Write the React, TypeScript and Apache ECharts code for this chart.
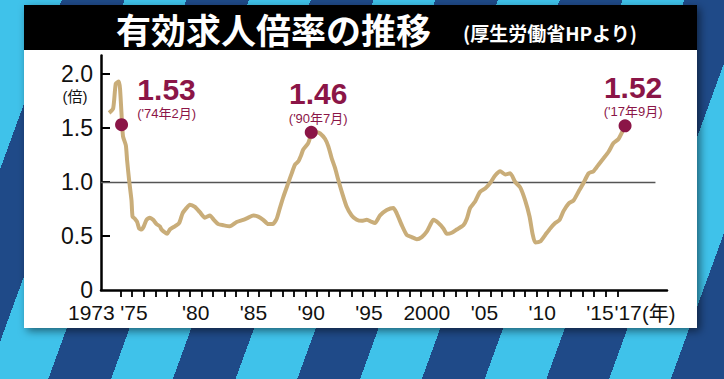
import React, { useEffect, useRef } from "react";
import * as echarts from "echarts";

// ---- data ----
const months: number[] = [
  1973.0, 1973.35, 1973.58, 1973.84, 1973.95, 1974.13, 1974.21, 1974.45, 1974.56, 1974.73,
  1974.94, 1975.03, 1975.23, 1975.43, 1975.6, 1975.81, 1976.01, 1976.24, 1976.53, 1976.81,
  1977.11, 1977.39, 1977.54, 1977.74, 1978.03, 1978.26, 1978.69, 1979.07, 1979.36, 1979.71,
  1979.99, 1980.43, 1980.86, 1981.29, 1981.73, 1982.07, 1982.45, 1982.88, 1983.46, 1984.04,
  1984.61, 1985.05, 1985.48, 1985.91, 1986.34, 1986.78, 1987.16, 1987.51, 1987.79, 1988.08,
  1988.51, 1988.81, 1989.09, 1989.38, 1989.6, 1989.81, 1990.24, 1990.55, 1991.0, 1991.26,
  1991.69, 1991.98, 1992.27, 1992.56, 1992.84, 1993.14, 1993.57, 1994.0, 1994.44, 1994.87,
  1995.31, 1995.74, 1996.02, 1996.46, 1997.04, 1997.61, 1997.9, 1998.34, 1998.77, 1999.2,
  1999.64, 2000.07, 2000.5, 2000.79, 2001.08, 2001.51, 2001.94, 2002.24, 2002.67, 2003.1,
  2003.68, 2003.97, 2004.26, 2004.69, 2005.12, 2005.56, 2005.99, 2006.42, 2006.86, 2007.29,
  2007.72, 2008.16, 2008.59, 2009.02, 2009.4, 2009.66, 2009.89, 2010.33, 2010.76, 2011.19,
  2011.62, 2012.0, 2012.34, 2012.78, 2013.21, 2013.64, 2014.07, 2014.51, 2014.94, 2015.37,
  2015.81, 2016.24, 2016.67, 2017.11, 2017.67,
];
const ratios: number[] = [
  1.64, 1.68, 1.91, 1.93, 1.86, 1.53, 1.42, 1.34, 1.2, 1.02,
  0.83, 0.68, 0.66, 0.63, 0.57, 0.56, 0.59, 0.65, 0.67, 0.65,
  0.61, 0.59, 0.56, 0.54, 0.52, 0.56, 0.59, 0.62, 0.71, 0.76,
  0.79, 0.77, 0.72, 0.67, 0.69, 0.65, 0.61, 0.6, 0.59, 0.63,
  0.65, 0.67, 0.69, 0.68, 0.65, 0.61, 0.61, 0.66, 0.76, 0.86,
  0.99, 1.08, 1.16, 1.19, 1.24, 1.3, 1.36, 1.45, 1.46, 1.45,
  1.4, 1.33, 1.22, 1.13, 1.02, 0.91, 0.77, 0.69, 0.65, 0.64,
  0.65, 0.63, 0.62, 0.69, 0.74, 0.76, 0.71, 0.6, 0.51, 0.49,
  0.47, 0.49, 0.54, 0.6, 0.65, 0.62, 0.57, 0.52, 0.53, 0.56,
  0.6, 0.66, 0.76, 0.82, 0.91, 0.94, 0.99, 1.06, 1.1, 1.07,
  1.08, 1.0, 0.95, 0.83, 0.68, 0.52, 0.44, 0.45, 0.51, 0.57,
  0.62, 0.65, 0.73, 0.8, 0.83, 0.91, 0.99, 1.08, 1.1, 1.16,
  1.22, 1.28, 1.36, 1.4, 1.52,
];

const peakMonths = [1974.08, 1990.5, 2017.67];
const peakRatios = [1.53, 1.46, 1.52];
const peakDates = ["('74年2月)", "('90年7月)", "('17年9月)"];

const yLabelValues = [0, 0.5, 1.0, 1.5, 2.0];
const yTickValues = [0.5, 1.0, 1.5, 2.0];
const xLabelYears = [1973, 1975, 1980, 1985, 1990, 1995, 2000, 2005, 2010, 2015, 2017];
const xLabelTexts = ["1973", "'75", "'80", "'85", "'90", "'95", "2000", "'05", "'10", "'15", "'17"];
const xTickYears = [
  1974, 1975, 1976, 1977, 1978, 1979, 1980, 1981, 1982, 1983, 1984, 1985, 1986, 1987, 1988,
  1989, 1990, 1991, 1992, 1993, 1994, 1995, 1996, 1997, 1998, 1999, 2000, 2001, 2002, 2003,
  2004, 2005, 2006, 2007, 2008, 2009, 2010, 2011, 2012, 2013, 2014, 2015, 2016, 2017,
];
const referenceRatio = 1.0;

const TITLE = "有効求人倍率の推移";
const SOURCE = "(厚生労働省HPより)";
const Y_UNIT = "(倍)";
const X_UNIT = "(年)";

// ---- layout / style ----
const X_MIN = 1972.3;
const X_MAX = 2021.3;
const REF_END = 2020.3;
const Y_MAX = 2.17;
const LINE_COLOR = "#c9ad79";
const PEAK_COLOR = "#8b1547";
const TEXT_COLOR = "#111111";
const FONT = "'Liberation Sans', 'Noto Sans CJK JP', sans-serif";
const CJK_FONT = "'Noto Sans CJK JP', sans-serif";

export default function App() {
  const ref = useRef<HTMLDivElement>(null);

  useEffect(() => {
    if (!ref.current) return;
    const chart = echarts.init(ref.current, undefined, { renderer: "svg" });

    const labelOffsets: [number, number][] = [
      [45, 3],
      [7, 0],
      [8, 0],
    ];

    const option: any = {
      animation: false,
      backgroundColor: "transparent",
      title: [
        {
          text: TITLE,
          left: 116,
          top: 11,
          padding: 0,
          textStyle: { color: "#ffffff", fontSize: 35, fontWeight: "bold", fontFamily: CJK_FONT, lineHeight: 35 },
        },
        {
          text: SOURCE,
          left: 463,
          top: 22,
          padding: 0,
          textStyle: { color: "#ffffff", fontSize: 19, fontWeight: "bold", fontFamily: CJK_FONT, lineHeight: 20 },
        },
      ],
      graphic: [
        {
          type: "rect",
          z: -10,
          silent: true,
          shape: { x: 24, y: 5, width: 673, height: 323 },
          style: {
            fill: "#ffffff",
            shadowBlur: 8,
            shadowOffsetX: 3,
            shadowOffsetY: 3,
            shadowColor: "rgba(0,0,0,0.5)",
          },
        },
        {
          type: "rect",
          z: -9,
          silent: true,
          shape: { x: 24, y: 5, width: 673, height: 45 },
          style: { fill: "#000000" },
        },
      ],
      grid: { left: 101, right: 57, top: 55.6, bottom: 89, containLabel: false, outerBoundsMode: "none" },
      xAxis: {
        type: "value",
        min: X_MIN,
        max: X_MAX,
        name: X_UNIT,
        nameLocation: "end",
        nameGap: -25,
        nameMoveOverlap: false,
        nameTextStyle: {
          color: TEXT_COLOR,
          fontSize: 20,
          fontFamily: FONT,
          align: "left",
          verticalAlign: "top",
          padding: [13, 0, 0, 0],
          lineHeight: 21,
        },
        axisLine: { show: true, onZero: false, lineStyle: { color: "#000", width: 2.5 } },
        axisTick: { show: true, customValues: xTickYears, length: 7, lineStyle: { color: "#000", width: 1.8 } },
        splitLine: { show: false },
        axisLabel: {
          customValues: xLabelYears.map((y) => y + 0.5),
          margin: 12,
          color: TEXT_COLOR,
          fontSize: 21,
          fontFamily: FONT,
          formatter: (value: number) => {
            const i = xLabelYears.findIndex((y) => Math.abs(y + 0.5 - value) < 1e-6);
            if (i < 0) return "";
            const t = xLabelTexts[i];
            if (i === 0) return `{first|${t}}`;
            if (i === 1) return `{l|${t}}`;
            if (i === xLabelYears.length - 1) return `{r|${t}}`;
            return `{n|${t}}`;
          },
          rich: {
            first: { fontSize: 21, fontFamily: FONT, color: TEXT_COLOR, padding: [0, 47, 0, 0] },
            l: { fontSize: 21, fontFamily: FONT, color: TEXT_COLOR, padding: [0, 8, 0, 0] },
            r: { fontSize: 21, fontFamily: FONT, color: TEXT_COLOR, padding: [0, 0, 0, 10] },
            n: { fontSize: 21, fontFamily: FONT, color: TEXT_COLOR },
          },
        },
      },
      yAxis: {
        type: "value",
        min: 0,
        max: Y_MAX,
        name: Y_UNIT,
        nameLocation: "end",
        nameGap: -49,
        nameMoveOverlap: false,
        nameTextStyle: { color: TEXT_COLOR, fontSize: 15, fontFamily: FONT, padding: [0, 52, 0, 0], lineHeight: 16 },
        axisLine: { show: true, onZero: false, lineStyle: { color: "#000", width: 2.5 } },
        axisTick: { show: true, inside: true, customValues: yTickValues, length: 9, lineStyle: { color: "#000", width: 2 } },
        splitLine: { show: false },
        axisLabel: {
          customValues: yLabelValues,
          margin: 8,
          color: TEXT_COLOR,
          fontSize: 23,
          fontFamily: FONT,
          formatter: (v: number) => (v === 0 ? "0" : v.toFixed(1)),
        },
      },
      series: [
        {
          type: "line",
          data: months.map((m, i) => [m, ratios[i]]),
          showSymbol: false,
          smooth: 0.2,
          z: 3,
          lineStyle: { color: LINE_COLOR, width: 4 },
          markLine: {
            silent: true,
            symbol: ["none", "none"],
            z: 2,
            label: { show: false },
            lineStyle: { color: "#555555", width: 1.3, type: "solid" },
            data: [[{ coord: [X_MIN, referenceRatio] }, { coord: [REF_END, referenceRatio] }]],
          },
        },
        {
          type: "scatter",
          z: 5,
          symbol: "circle",
          symbolSize: 13,
          itemStyle: { color: PEAK_COLOR, opacity: 1 },
          data: peakMonths.map((m, i) => ({
            value: [m, peakRatios[i]],
            label: {
              show: true,
              position: "top",
              distance: 0,
              offset: labelOffsets[i],
              align: "center",
              formatter: `{v|${peakRatios[i].toFixed(2)}}\n{d|${peakDates[i]}}`,
              rich: {
                v: { fontSize: 30, fontWeight: "bold", color: PEAK_COLOR, fontFamily: FONT, lineHeight: 34, align: "center" },
                d: { fontSize: 13, color: PEAK_COLOR, fontFamily: FONT, lineHeight: 15, align: "center" },
              },
            },
          })),
        },
      ],
    };

    chart.setOption(option);
    return () => chart.dispose();
  }, []);

  return (
    <div
      style={{
        position: "fixed",
        left: 0,
        top: 0,
        width: 724,
        height: 379,
        background:
          "repeating-linear-gradient(110deg, #3fc2ea 0px, #3fc2ea 58px, #1f4a88 58px, #1f4a88 117px)",
      }}
    >
      <div ref={ref} style={{ width: 724, height: 379 }} />
    </div>
  );
}
